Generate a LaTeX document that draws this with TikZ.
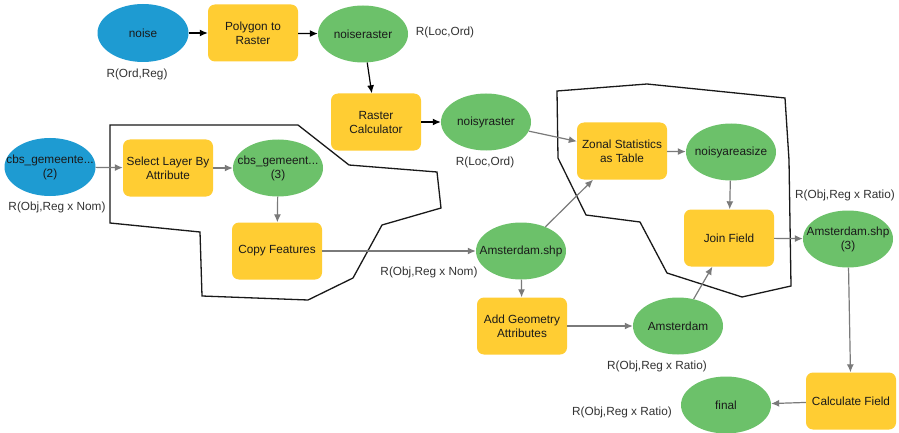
\documentclass[tikz,border=0pt]{standalone}
\usepackage{fontspec}
\setmainfont{Liberation Sans}
\usetikzlibrary{shapes.geometric,arrows.meta}
\definecolor{dsblue}{HTML}{1E9BD2}
\definecolor{dsgreen}{HTML}{6CC16A}
\definecolor{toolyellow}{HTML}{FFCD33}
\definecolor{linkgray}{HTML}{7A7A7A}
\definecolor{inktext}{HTML}{1A1A1A}
% zero-width centred line, so long labels never widen an ellipse
\newcommand\cl[1]{\makebox[0pt]{#1}}
\tikzset{
  every node/.style={font=\fontsize{11.8}{14}\selectfont, text=inktext},
  tool/.style={rectangle, rounded corners=7pt, fill=toolyellow, minimum width=90pt, minimum height=57pt, inner sep=0pt, align=center},
  inputdata/.style={ellipse, fill=dsblue, minimum width=91pt, minimum height=58pt, inner sep=0pt, align=center},
  derived/.style={ellipse, fill=dsgreen, minimum width=90pt, minimum height=57pt, inner sep=0pt, align=center},
  tag/.style={inner sep=0pt, text=black!80},
  flow/.style={draw=black, line width=1.2pt, -{Latex[length=8pt,width=7pt]}},
  link/.style={draw=linkgray, line width=1.2pt, -{Latex[length=8pt,width=7pt]}},
  outline/.style={draw=black!90, line width=1.3pt, line join=miter}
}
\begin{document}
\begin{tikzpicture}[x=1pt,y=-1pt]
\useasboundingbox[fill=white] (0,0) rectangle (899,433);

% grouping outlines
\draw[outline] (110,125) -- (298,125) -- (349,165) -- (437,172) -- (441,208)
  -- (382,225) -- (353,278) -- (308,300) -- (202,296) -- (200,232) -- (110,223) -- cycle;
\draw[outline] (557,91) -- (647,84) -- (785,98) -- (789,160) -- (791,286)
  -- (742,297) -- (667,273) -- (640,222) -- (586,215) -- (558,158) -- cycle;

% top row
\node[inputdata] (noise) at (143,33) {noise};
\node[tool] (p2r) at (253,33) {Polygon to\\Raster};
\node[derived] (noiseraster) at (363,34) {\cl{noiseraster}};
\node[tool] (rcalc) at (376,122) {Raster\\Calculator};
\node[derived] (noisyraster) at (486,122) {\cl{noisyraster}};

% left group
\node[inputdata] (cbs2) at (50,167) {\cl{cbs\_gemeente...}\\\cl{(2)}};
\node[tool] (select) at (168,168) {Select Layer By\\Attribute};
\node[derived] (cbs3) at (278,168) {\cl{cbs\_gemeent...}\\\cl{(3)}};
\node[tool] (copy) at (277,251) {Copy Features};

% right side
\node[derived] (ams) at (521,251) {\cl{Amsterdam.shp}};
\node[tool] (zonal) at (622,151) {Zonal Statistics\\as Table};
\node[derived] (areasize) at (731,152) {\cl{noisyareasize}};
\node[tool] (join) at (729,238) {Join Field};
\node[derived] (ams3) at (848,239) {\cl{Amsterdam.shp}\\\cl{(3)}};
\node[tool] (addgeom) at (522,326) {Add Geometry\\Attributes};
\node[derived] (amsterdam) at (678,326) {\cl{Amsterdam}};
\node[tool] (calc) at (851,401) {Calculate Field};
\node[derived] (final) at (726,405) {final};

% data type tags
\node[tag] (t1) at (137,74) {R(Ord,Reg)};
\node[tag] (t2) at (445,32) {R(Loc,Ord)};
\node[tag] (t3) at (485,162) {R(Loc,Ord)};
\node[tag] (t4) at (57,207) {R(Obj,Reg x Nom)};
\node[tag] (t5) at (429,272) {R(Obj,Reg x Nom)};
\node[tag] (t6) at (845,195) {R(Obj,Reg x Ratio)};
\node[tag] (t7) at (657,366) {R(Obj,Reg x Ratio)};
\node[tag] (t8) at (622,412) {R(Obj,Reg x Ratio)};

% connectors
\draw[flow] (noise) -- (p2r);
\draw[flow] (p2r) -- (noiseraster);
\draw[flow] (noiseraster) -- (rcalc);
\draw[flow] (rcalc) -- (noisyraster);
\draw[link] (noisyraster) -- (zonal);
\draw[link] (cbs2) -- (select);
\draw[link] (select) -- (cbs3);
\draw[link] (cbs3) -- (copy);
\draw[link] (copy) -- (ams);
\draw[link] (ams) -- (zonal);
\draw[link] (zonal) -- (areasize);
\draw[link] (areasize) -- (join);
\draw[link] (join) -- (ams3);
\draw[link] (ams) -- (addgeom);
\draw[link] (addgeom) -- (amsterdam);
\draw[link] (amsterdam) -- (join);
\draw[link] (ams3) -- (calc);
\draw[link] (calc) -- (final);
\end{tikzpicture}
\end{document}
